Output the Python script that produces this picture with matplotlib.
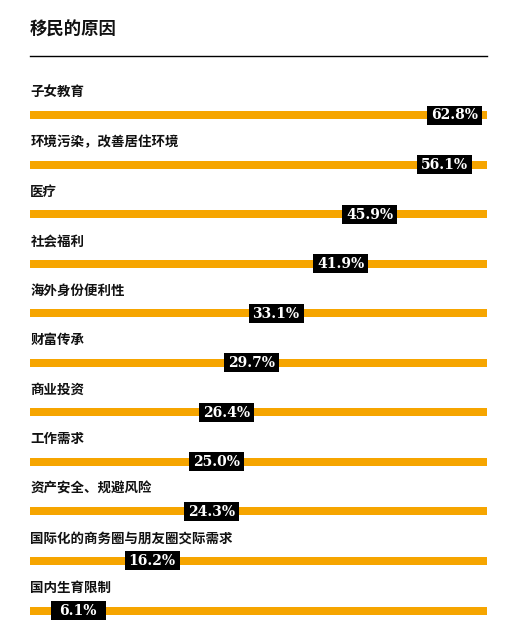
import matplotlib
matplotlib.use('Agg')
import matplotlib.pyplot as plt
from matplotlib.lines import Line2D

plt.rcParams['font.family'] = ['Noto Sans CJK SC', 'DejaVu Sans']

title = '移民的原因'
reasons = ['子女教育', '环境污染，改善居住环境', '医疗', '社会福利', '海外身份便利性',
           '财富传承', '商业投资', '工作需求', '资产安全、规避风险',
           '国际化的商务圈与朋友圈交际需求', '国内生育限制']
shares = [62.8, 56.1, 45.9, 41.9, 33.1, 29.7, 26.4, 25.0, 24.3, 16.2, 6.1]

W, H = 516, 642
orange = '#f6a500'

fig = plt.figure(figsize=(W / 100, H / 100), dpi=100)
# bar track runs from x=30 to x=487 px
ax = fig.add_axes([30 / W, 0, 457 / W, 1])
xmin, xmax = -0.48, 61.88
row_px = 49.55
first_px = 115
ax.set_xlim(xmin, xmax)
ax.set_ylim((H - first_px) / row_px, -first_px / row_px)
ax.axis('off')

px_per_unit = 457 / (xmax - xmin)
box_w = 55 / px_per_unit
box_h = 19 / row_px
bar_h = 8 / row_px

for i, (name, v) in enumerate(zip(reasons, shares)):
    # orange track across the full width
    ax.barh(i, xmax - xmin, left=xmin, height=bar_h, color=orange, zorder=1)
    ax.text(xmin + 0.05, i - 22.5 / row_px, name, fontsize=9.7, fontweight='bold',
            va='center', ha='left', color='#111111')
    # label box, kept inside the track at the right end
    c = min(v, xmax - box_w / 2 - 5 / px_per_unit)
    ax.barh(i, box_w, left=c - box_w / 2, height=box_h, color='black', zorder=2)
    ax.text(c, i + 0.01, f'{v:.1f}%', fontsize=10, fontweight='bold', family='DejaVu Serif',
            color='white', ha='center', va='center', zorder=3)

fig.text(30 / W, 1 - 30 / H, title, fontsize=12.5, fontweight='bold', va='center', ha='left',
         color='#111111')
fig.add_artist(Line2D([30 / W, 487 / W], [1 - 56 / H, 1 - 56 / H], color='black', lw=1))

fig.savefig('out.png', dpi=100)
